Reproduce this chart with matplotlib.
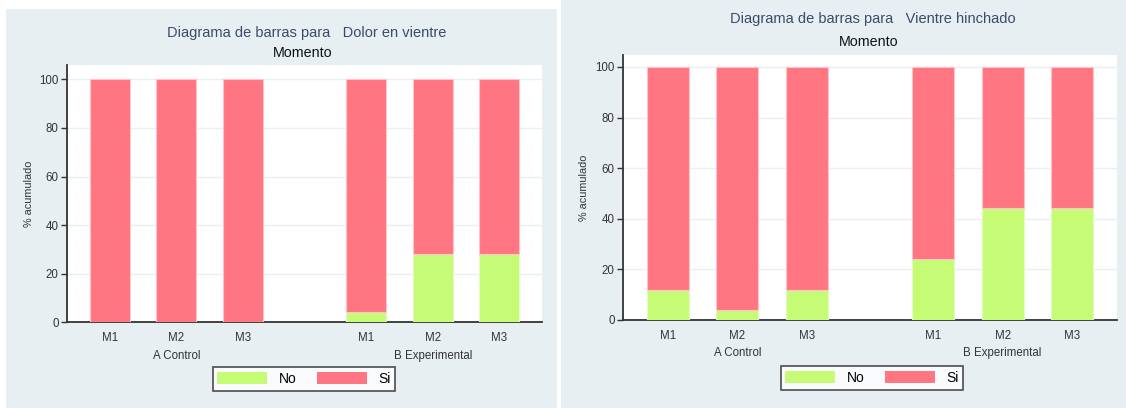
import matplotlib
matplotlib.use('Agg')
import matplotlib.pyplot as plt
from matplotlib.patches import Rectangle, Patch
import numpy as np

# datos
momentos = ['M1', 'M2', 'M3']
grupos = ['A Control', 'B Experimental']
dolor_no = [0, 0, 0, 4.3, 28.1, 28.1]
hinchado_no = [11.9, 4.1, 11.9, 24.1, 44.1, 44.1]
yticks = [0, 20, 40, 60, 80, 100]

W, H = 1126, 408
VERDE = '#c6fb76'
ROJO = '#ff7682'
FONDO = '#e8eff2'
TITULO = '#3b4a6b'

plt.rcParams['font.family'] = ['Liberation Sans', 'DejaVu Sans']

fig = plt.figure(figsize=(W / 100, H / 100), dpi=100, facecolor='white')


def px_rect(x0, y0, x1, y1):
    # pixeles (origen arriba-izq) -> coordenadas de figura
    return [x0 / W, 1 - y1 / H, (x1 - x0) / W, (y1 - y0) / H]


def panel(fondo, ejes, no_vals, variable, t1, t2, gap, ylim_top, ylab_x, ley):
    # fondo del panel
    r = px_rect(*fondo)
    fig.patches.append(Rectangle((r[0], r[1]), r[2], r[3], transform=fig.transFigure,
                                 facecolor=FONDO, edgecolor='none', zorder=-10))
    ax = fig.add_axes(px_rect(*ejes))
    xs = np.array([0, 1, 2, 2 + gap, 3 + gap, 4 + gap])
    no = np.array(no_vals)
    si = 100 - no
    ax.bar(xs, no, width=0.6, color=VERDE, edgecolor='#e4fbc0', linewidth=0.8, zorder=3)
    ax.bar(xs, si, bottom=no, width=0.6, color=ROJO, edgecolor='#ffc4c9', linewidth=0.8, zorder=3)
    ax.set_xlim(-0.64, xs[-1] + 0.64)
    ax.set_ylim(0, ylim_top)
    ax.set_yticks(yticks)
    ax.tick_params(axis='y', labelsize=8.3, length=4, width=1, colors='#333333', pad=2)
    ax.set_xticks(xs)
    ax.set_xticklabels(momentos * 2)
    ax.tick_params(axis='x', labelsize=8.3, length=0, colors='#333333', pad=7)
    ax.grid(axis='y', color='#e9f0f3', linewidth=1, zorder=0)
    for s in ['top', 'right']:
        ax.spines[s].set_visible(False)
    for s in ['left', 'bottom']:
        ax.spines[s].set_color('#333333')
        ax.spines[s].set_linewidth(1.3)
    ax.set_ylabel('% acumulado', fontsize=7.8, color='#333333')
    ax.yaxis.set_label_coords(ylab_x, 0.5)
    # etiquetas de grupo
    for g, c in zip(grupos, [xs[1], xs[4]]):
        ax.annotate(g, xy=(c, 0), xycoords=('data', 'axes fraction'),
                    xytext=(0, -24), textcoords='offset points',
                    ha='center', va='center', fontsize=8.3, color='#333333')
    # titulos
    fig.text(t1[0] / W, 1 - t1[1] / H, 'Diagrama de barras para   ' + variable,
             ha='center', va='center', fontsize=10.5, color=TITULO)
    fig.text(t2[0] / W, 1 - t2[1] / H, 'Momento', ha='center', va='center',
             fontsize=10.3, color='#111111')
    handles = [Patch(facecolor=VERDE, edgecolor='none', label='No'),
               Patch(facecolor=ROJO, edgecolor='none', label='Si')]
    leg = fig.legend(handles=handles, ncol=2, loc='center',
                     bbox_to_anchor=(ley[0] / W, 1 - ley[1] / H),
                     fontsize=10, frameon=True, fancybox=False,
                     handlelength=3.6, handleheight=1.0, columnspacing=1.5,
                     handletextpad=0.8, borderpad=0.35, borderaxespad=0)
    leg.get_frame().set_edgecolor('#222222')
    leg.get_frame().set_linewidth(1.2)
    return ax


panel((6, 9, 557, 408), (67, 65, 542, 322.3), dolor_no, 'Dolor en vientre',
      (307, 33), (303, 53), 1.85, 105.9, -0.07, (304, 379))
panel((561, 0, 1126, 408), (623, 55, 1117, 320), hinchado_no, 'Vientre hinchado',
      (873, 19), (869, 42), 1.8, 104.7, -0.068, (872, 378))

fig.savefig('out.png', dpi=100, facecolor='white')
